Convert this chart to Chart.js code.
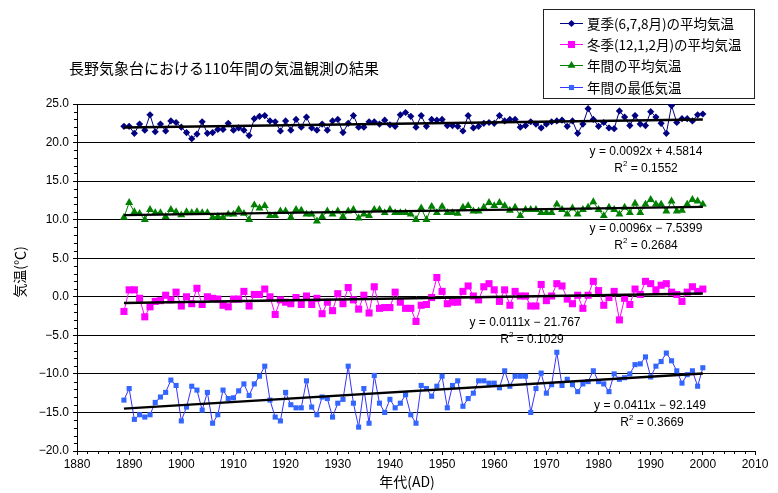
<!DOCTYPE html>
<html>
<head>
<meta charset="utf-8">
<script src="https://cdn.jsdelivr.net/npm/chart.js@4.4.0/dist/chart.umd.min.js"></script>
<style>
  body { margin: 0; background: #fff; }
  #wrap { width: 778px; height: 493px; }
</style>
</head>
<body>
<div id="wrap"><canvas id="myChart" width="778" height="493"></canvas></div>
<script>
// data, one value per year from 1889
const firstYear = 1889;

const summer = [
    22.1, 22.1, 21.2, 22.4, 21.6, 23.6, 21.4, 22.4, 21.5, 22.8,
    22.6, 22.0, 21.3, 20.5, 21.1, 22.7, 21.2, 21.3, 21.7, 21.7,
    22.5, 21.6, 21.9, 21.6, 20.9, 23.1, 23.4, 23.5, 22.8, 22.7,
    21.5, 22.8, 21.6, 23.0, 22.0, 23.3, 21.9, 21.6, 22.4, 21.6,
    22.8, 23.0, 21.3, 22.5, 23.5, 22.0, 22.0, 22.7, 22.7, 22.4,
    22.9, 22.3, 22.1, 23.6, 23.9, 23.4, 22.0, 23.5, 22.1, 23.0,
    22.9, 23.0, 22.2, 22.2, 22.1, 21.5, 23.5, 21.9, 22.1, 22.5,
    22.6, 22.5, 23.5, 22.8, 23.0, 23.0, 22.0, 22.2, 22.7, 22.4,
    21.9, 22.4, 22.7, 22.8, 22.9, 22.1, 22.8, 21.2, 22.4, 24.4,
    23.0, 22.1, 22.6, 21.9, 21.8, 24.1, 23.3, 22.2, 23.5, 22.4,
    22.2, 24.0, 23.3, 22.5, 21.2, 24.8, 22.6, 23.1, 23.1, 22.8,
    23.6, 23.7
];

const winter = [
    -1.9, 0.9, 0.9, -0.2, -2.6, -1.3, -0.6, -0.5, 0.2, -0.4,
    0.6, -1.2, 0.0, -0.9, 1.1, -1.0, 0.0, -0.2, -0.3, -1.1,
    -1.3, -0.3, -0.3, 0.7, -1.2, 0.3, 0.3, 1.0, 0.0, -2.3,
    -0.4, -0.7, -0.9, -0.1, -1.0, 0.1, -1.0, -0.2, -2.2, -0.7,
    -1.8, 0.4, -0.9, 1.2, -0.4, -1.6, 0.2, -2.1, 1.3, -1.5,
    -1.4, -1.4, 0.6, -0.7, -1.5, -1.5, -3.2, -1.1, -1.0, -0.1,
    2.5, 0.7, -0.9, -0.7, -0.7, 0.7, 1.4, 0.1, -0.4, 1.3,
    1.7, 0.9, -0.6, 0.9, -1.1, 0.7, 0.1, 0.1, -1.2, -1.2,
    1.6, -0.5, 0.1, 1.7, 1.4, -0.3, -0.9, 0.2, -1.5, 0.2,
    2.0, 0.8, -1.1, -0.1, 0.7, -3.0, -0.2, -1.0, 1.0, 0.3,
    2.0, 1.7, 0.9, 1.5, 1.7, 0.6, 0.3, -0.6, 0.6, 1.3,
    0.7, 1.0
];

const annual = [
    10.3, 12.2, 11.0, 10.8, 10.0, 11.3, 10.9, 10.9, 10.4, 11.3,
    11.0, 10.6, 11.0, 10.9, 11.0, 10.9, 10.9, 10.3, 10.4, 10.3,
    10.7, 10.7, 11.3, 10.8, 10.0, 11.9, 11.5, 11.8, 10.5, 10.5,
    11.1, 11.1, 10.3, 11.3, 11.2, 10.7, 10.7, 9.8, 10.4, 11.1,
    10.7, 11.1, 10.4, 11.1, 11.3, 10.2, 10.7, 10.5, 11.3, 11.3,
    10.9, 11.3, 10.9, 10.9, 10.9, 10.7, 10.0, 11.5, 10.0, 11.7,
    10.9, 11.7, 10.9, 10.9, 10.8, 11.6, 11.8, 11.1, 11.1, 11.6,
    12.2, 11.8, 12.2, 11.8, 11.2, 11.6, 10.5, 11.3, 11.3, 11.3,
    10.9, 10.9, 10.9, 12.0, 11.3, 10.7, 11.5, 10.7, 11.3, 11.6,
    12.3, 11.3, 10.5, 11.6, 11.3, 10.7, 11.6, 10.9, 12.1, 10.9,
    12.0, 12.6, 12.0, 12.0, 11.1, 12.4, 11.1, 11.2, 12.0, 12.6,
    12.4, 12.0
];

const minimum = [
    -13.4, -11.9, -15.9, -15.3, -15.6, -15.3, -13.7, -13.0, -12.4, -10.8,
    -11.5, -16.1, -14.3, -11.6, -12.1, -14.7, -12.4, -16.4, -15.3, -12.1,
    -13.2, -13.1, -12.2, -11.3, -12.8, -11.3, -10.3, -9.0, -13.4, -15.6,
    -16.1, -12.4, -14.0, -14.4, -14.4, -10.9, -14.3, -15.3, -13.0, -13.2,
    -15.6, -13.8, -13.3, -9.0, -13.8, -16.9, -11.9, -16.4, -10.2, -13.8,
    -15.0, -13.3, -14.4, -13.8, -12.7, -15.3, -16.4, -11.5, -11.9, -12.9,
    -11.6, -10.3, -14.4, -11.5, -10.9, -14.2, -13.2, -12.5, -10.9, -10.9,
    -11.2, -11.2, -11.8, -9.6, -11.6, -10.3, -10.3, -10.3, -15.0, -11.9,
    -9.9, -12.5, -11.4, -7.2, -11.5, -10.7, -11.4, -12.3, -11.3, -11.0,
    -9.6, -11.0, -11.3, -12.3, -10.0, -10.7, -10.5, -10.0, -8.8, -8.7,
    -7.8, -10.4, -9.0, -8.4, -7.3, -8.3, -9.6, -11.2, -10.1, -9.6,
    -11.6, -9.2
];

// trend lines as written on the chart: y = slope * year + intercept
const trendSlopes = [0.0092, 0.0096, 0.0111, 0.0411];
const trendIntercepts = [4.5814, -7.5399, -21.767, -92.149];
const trendLabels = ['y = 0.0092x + 4.5814', 'y = 0.0096x \u2212 7.5399', 'y = 0.0111x \u2212 21.767', 'y = 0.0411x \u2212 92.149'];
const r2Labels = ['0.1552', '0.2684', '0.1029', '0.3669'];

const seriesNames = ['夏季(6,7,8月)の平均気温', '冬季(12,1,2月)の平均気温', '年間の平均気温', '年間の最低気温'];

const JP = '"Noto Sans CJK JP", sans-serif';
const NUM = '"Liberation Sans", Arial, sans-serif';

function toPoints (values) {
    return values.map((v, i) => ({ x: firstYear + i, y: v }));
}

function trendPoints (k) {
    const lastYear = firstYear + summer.length - 1;
    return [firstYear, lastYear].map(yr => ({ x: yr, y: trendSlopes[k] * yr + trendIntercepts[k] }));
}

const styles = [
    { line: '#000080', fill: '#000080', point: 'rectRot', radius: 3.6 },
    { line: '#ff00ff', fill: '#ff00ff', point: 'rect', radius: 5 },
    { line: '#008000', fill: '#008000', point: 'triangle', radius: 4.6 },
    { line: '#3333ff', fill: '#3366ff', point: 'rect', radius: 3.6 }
];

const allSeries = [summer, winter, annual, minimum];

const datasets = [];
allSeries.forEach((vals, k) => {
    datasets.push({
        label: seriesNames[k],
        data: toPoints(vals),
        borderColor: styles[k].line,
        backgroundColor: styles[k].fill,
        borderWidth: 1,
        pointStyle: styles[k].point,
        pointRadius: styles[k].radius,
        pointBorderWidth: 0,
        pointBackgroundColor: styles[k].fill,
        tension: 0,
        order: 2
    });
});
allSeries.forEach((vals, k) => {
    datasets.push({
        label: 'trend' + k,
        data: trendPoints(k),
        borderColor: '#000',
        borderWidth: 2.4,
        pointRadius: 0,
        order: 1
    });
});

// minor ticks, titles, equations and the legend box
const extrasPlugin = {
    id: 'extras',
    afterDraw (chart) {
        const ctx = chart.ctx;
        const xs = chart.scales.x;
        const ys = chart.scales.y;
        const area = chart.chartArea;

        ctx.save();
        ctx.strokeStyle = '#000';
        ctx.lineWidth = 1;
        ctx.beginPath();
        for (let v = -20; v <= 25; v++) {
            if (v % 5 === 0) continue;
            const py = Math.round(ys.getPixelForValue(v)) + 0.5;
            ctx.moveTo(area.left - 3, py);
            ctx.lineTo(area.left, py);
        }
        for (let yr = 1880; yr <= 2010; yr += 2) {
            if (yr % 10 === 0) continue;
            const px = Math.round(xs.getPixelForValue(yr)) + 0.5;
            ctx.moveTo(px, area.bottom);
            ctx.lineTo(px, area.bottom + 3);
        }
        ctx.stroke();

        ctx.fillStyle = '#000';
        ctx.textBaseline = 'middle';

        ctx.font = '15px ' + JP;
        ctx.textAlign = 'left';
        ctx.fillText('長野気象台における110年間の気温観測の結果', 69, 68);

        ctx.font = '14px ' + JP;
        ctx.textAlign = 'center';
        ctx.fillText('年代(AD)', 407, 482);

        ctx.save();
        ctx.translate(20, 272);
        ctx.rotate(-Math.PI / 2);
        ctx.fillText('気温(℃)', 0, 0);
        ctx.restore();

        // equations
        const eqPos = [[646, 152, 646, 169], [646, 229, 646, 246], [525, 323, 532, 340], [650, 406, 652, 423]];
        eqPos.forEach((p, k) => {
            ctx.font = '12px ' + NUM;
            ctx.textAlign = 'center';
            ctx.fillText(trendLabels[k], p[0], p[1]);
            const rest = ' = ' + r2Labels[k];
            const wR = ctx.measureText('R').width;
            const wRest = ctx.measureText(rest).width;
            ctx.font = '8px ' + NUM;
            const w2 = ctx.measureText('2').width;
            const total = wR + w2 + wRest;
            let x0 = p[2] - total / 2;
            ctx.textAlign = 'left';
            ctx.font = '12px ' + NUM;
            ctx.fillText('R', x0, p[3]);
            ctx.font = '8px ' + NUM;
            ctx.fillText('2', x0 + wR, p[3] - 5);
            ctx.font = '12px ' + NUM;
            ctx.fillText(rest, x0 + wR + w2, p[3]);
        });

        // legend box
        ctx.fillStyle = '#fff';
        ctx.fillRect(543, 9, 211, 89);
        ctx.strokeStyle = '#222';
        ctx.lineWidth = 1;
        ctx.strokeRect(543.5, 9.5, 211, 89);
        const rowY = [23, 44, 65, 87];
        rowY.forEach((ry, k) => {
            ctx.strokeStyle = styles[k].line;
            ctx.lineWidth = 1;
            ctx.beginPath();
            ctx.moveTo(560, ry + 0.5);
            ctx.lineTo(583, ry + 0.5);
            ctx.stroke();
            ctx.fillStyle = styles[k].fill;
            ctx.strokeStyle = styles[k].fill;
            Chart.helpers.drawPoint(ctx, { pointStyle: styles[k].point, radius: styles[k].radius, rotation: 0, borderWidth: 0 }, 571.5, ry + 0.5);
            ctx.fillStyle = '#000';
            ctx.font = '13.5px ' + JP;
            ctx.textAlign = 'left';
            ctx.fillText(seriesNames[k], 587, ry + 1);
        });
        ctx.restore();
    }
};

const config = {
    type: 'line',
    data: { datasets },
    options: {
        responsive: false,
        animation: false,
        devicePixelRatio: 1,
        layout: { padding: { left: 0, top: 104, right: 23, bottom: 0 } },
        plugins: {
            legend: { display: false },
            tooltip: { enabled: false },
            title: { display: false }
        },
        scales: {
            x: {
                type: 'linear',
                min: 1880,
                max: 2010,
                afterFit: scale => { scale.height = 42; },
                ticks: {
                    stepSize: 10,
                    maxRotation: 0,
                    padding: 2,
                    color: '#000',
                    font: { family: NUM, size: 12 },
                    callback: v => String(v)
                },
                grid: { drawOnChartArea: false, tickLength: 4, color: '#000' },
                border: { color: '#000' }
            },
            y: {
                min: -20,
                max: 25,
                afterFit: scale => { scale.width = 77; },
                ticks: {
                    stepSize: 5,
                    padding: 4,
                    color: '#000',
                    font: { family: NUM, size: 12 },
                    callback: v => (v < 0 ? '\u2212' : '') + Math.abs(v).toFixed(1)
                },
                grid: { color: '#000', tickLength: 4 },
                border: { color: '#000' }
            }
        }
    },
    plugins: [extrasPlugin]
};

const myChart = new Chart(document.getElementById('myChart'), config);
</script>
</body>
</html>
